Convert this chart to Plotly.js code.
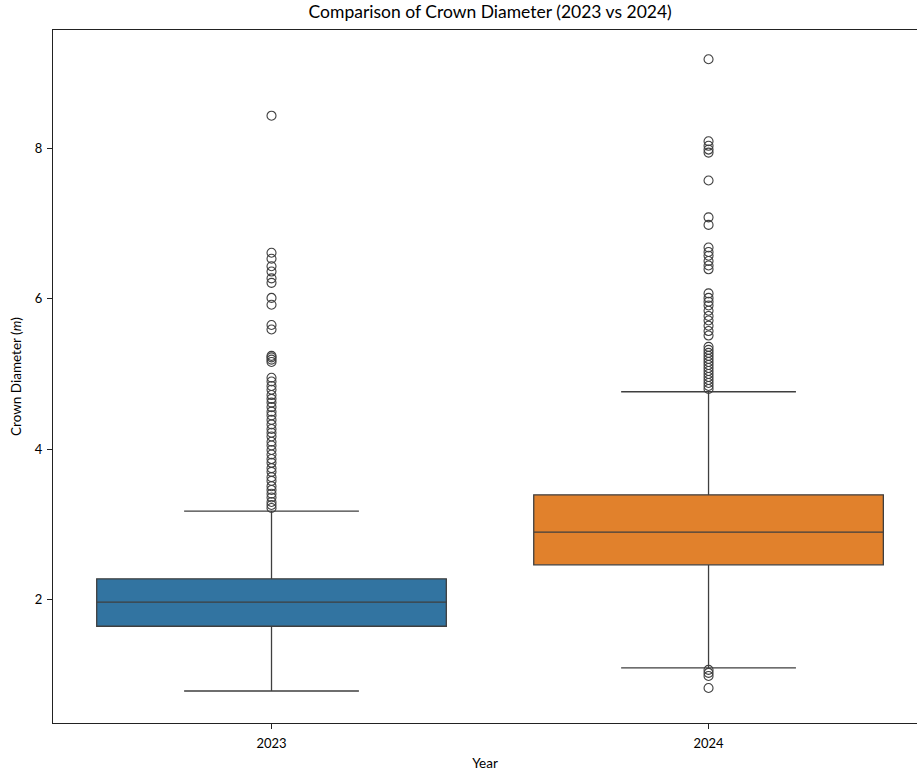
<!DOCTYPE html>
<html>
<head>
<meta charset="utf-8">
<script src="https://cdn.plot.ly/plotly-3.0.1.min.js"></script>
<style>html,body{margin:0;padding:0;background:#fff;}#chart{width:917px;height:771px;}</style>
</head>
<body>
<div id="chart"></div>
<script>
const categories = ['2023', '2024'];
const q1 = [1.65, 2.465];
const medians = [1.97, 2.90];
const q3 = [2.28, 3.395];
const lowerFence = [0.79, 1.096];
const upperFence = [3.18, 4.764];
const boxColors = ['#3274a1', '#e1812c'];

const outliers2023 = [8.43, 6.61, 6.53, 6.43, 6.36, 6.27, 6.21, 6.01, 5.92, 5.65, 5.59,
  5.24, 5.22, 5.19, 5.16, 4.95, 4.90, 4.84, 4.79, 4.72, 4.67, 4.62, 4.56, 4.50, 4.45,
  4.39, 4.33, 4.27, 4.22, 4.17, 4.10, 4.05, 3.99, 3.93, 3.87, 3.82, 3.75, 3.70, 3.63,
  3.58, 3.51, 3.46, 3.41, 3.36, 3.30, 3.26, 3.22];
const outliers2024 = [9.18, 8.09, 8.03, 7.98, 7.94, 7.57, 7.08, 6.98, 6.68, 6.62, 6.57,
  6.50, 6.44, 6.39, 6.07, 6.01, 5.96, 5.91, 5.84, 5.77, 5.71, 5.64, 5.57, 5.51, 5.36,
  5.32, 5.28, 5.24, 5.20, 5.16, 5.12, 5.08, 5.04, 5.00, 4.96, 4.92, 4.88, 4.84, 4.80,
  1.07, 1.03, 0.99, 0.83];
const outlierSets = [outliers2023, outliers2024];

const edge = '#3f3f3f';
const traces = [];
categories.forEach((c, i) => {
  traces.push({
    type: 'box',
    x: [c],
    q1: [q1[i]], median: [medians[i]], q3: [q3[i]],
    lowerfence: [lowerFence[i]], upperfence: [upperFence[i]],
    fillcolor: boxColors[i],
    line: {color: edge, width: 1.3},
    width: 0.8,
    whiskerwidth: 0.5,
    boxpoints: false,
    showlegend: false,
    hoverinfo: 'skip'
  });
});
categories.forEach((c, i) => {
  traces.push({
    type: 'scatter',
    mode: 'markers',
    x: outlierSets[i].map(() => c),
    y: outlierSets[i],
    marker: {symbol: 'circle-open', size: 9, color: edge, line: {width: 1.1, color: edge}},
    showlegend: false,
    hoverinfo: 'skip'
  });
});

const font = 'Lato, "Open Sans", sans-serif';
const layout = {
  width: 917, height: 771,
  margin: {l: 53, r: 0, t: 30, b: 48},
  paper_bgcolor: '#fff', plot_bgcolor: '#fff',
  boxmode: 'overlay',
  font: {family: font, color: '#000', size: 13},
  title: {text: 'Comparison of Crown Diameter (2023 vs 2024)', font: {family: font, size: 17.5, color: '#000'}, xref: 'paper', x: 0.506, xanchor: 'center', yref: 'container', y: 0.993, yanchor: 'top'},
  xaxis: {
    type: 'category', categoryorder: 'array', categoryarray: categories,
    range: [-0.5, 1.477],
    showline: true, mirror: true, linecolor: '#222', linewidth: 1,
    showgrid: false, zeroline: false,
    ticks: 'outside', ticklen: 5, tickcolor: '#222', ticklabelstandoff: 3,
    tickfont: {family: font, size: 13, color: '#000'},
    title: {text: 'Year', font: {family: font, size: 13.5, color: '#000'}, standoff: 10}
  },
  yaxis: {
    range: [0.365, 9.568],
    tickvals: [2, 4, 6, 8],
    showline: true, mirror: false, linecolor: '#222', linewidth: 1,
    showgrid: false, zeroline: false,
    ticks: 'outside', ticklen: 5, tickcolor: '#222', ticklabelstandoff: 2,
    tickfont: {family: font, size: 13, color: '#000'},
    title: {text: 'Crown Diameter (<i>m</i>)', font: {family: font, size: 13.5, color: '#000'}, standoff: 10}
  }
};

Plotly.newPlot('chart', traces, layout, {displayModeBar: false, staticPlot: true});
</script>
</body>
</html>
